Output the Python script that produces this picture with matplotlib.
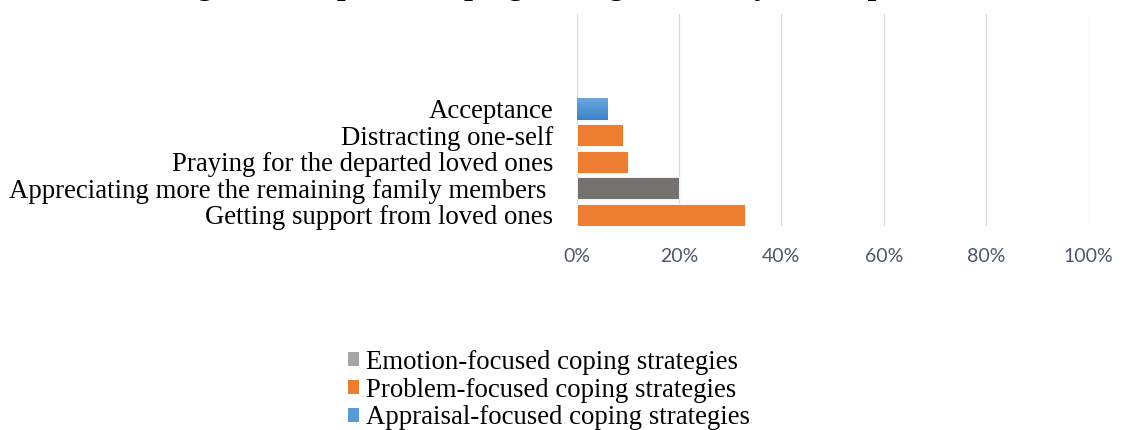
import matplotlib
matplotlib.use("Agg")
import matplotlib.pyplot as plt
import numpy as np
from matplotlib.patches import Patch
from matplotlib.colors import LinearSegmentedColormap

# ---- data ----
categories = [
    "Getting support from loved ones",
    "Appreciating more the remaining family members ",
    "Praying for the departed loved ones",
    "Distracting one-self",
    "Acceptance",
]
values = [33, 20, 10, 9, 6]
groups = ["Problem", "Emotion", "Problem", "Problem", "Appraisal"]
xticks = [0, 20, 40, 60, 80, 100]
xtick_labels = ["0%", "20%", "40%", "60%", "80%", "100%"]
legend_labels = [
    "Emotion-focused coping strategies",
    "Problem-focused coping strategies",
    "Appraisal-focused coping strategies",
]
title_text = "Figure 3: Reported coping strategies used by the respondents"

# ---- styles ----
bar_colors = {"Problem": "#ED7D31", "Emotion": "#767171", "Appraisal": "#4A92D2"}
legend_colors = ["#A5A5A5", "#ED7D31", "#5B9BD5"]
serif = "Liberation Serif"

W, H = 1121, 430
fig = plt.figure(figsize=(W / 100, H / 100), dpi=100)
ax = fig.add_axes([576.5 / W, 1 - 226 / H, (1088.5 - 576.5) / W, (226 - 14) / H])

ypos = np.arange(len(categories))
bars = ax.barh(ypos, values, height=0.83,
               color=[bar_colors[g] for g in groups],
               edgecolor="#FFFFFF", linewidth=0.6, zorder=3)

# gradient for appraisal bar
cmap = LinearSegmentedColormap.from_list("bl", ["#3A84C6", "#6AA6DE"])
for b, g in zip(bars, groups):
    if g == "Appraisal":
        x0, y0 = b.get_x(), b.get_y()
        w, h = b.get_width(), b.get_height()
        grad = np.linspace(0, 1, 64).reshape(-1, 1)
        im = ax.imshow(grad, extent=[x0, x0 + w, y0, y0 + h], origin="lower",
                       cmap=cmap, aspect="auto", zorder=3.5)
        im.set_clip_path(b)

ax.set_xlim(0, 100)
ax.set_ylim(-0.43, 7.57)
ax.set_xticks(xticks)
ax.set_xticklabels(xtick_labels, family="Lato", fontsize=14, color="#4B586B")
ax.set_yticks(ypos)
ax.set_yticklabels(categories, family=serif, fontsize=19.3, color="#000000")
ax.tick_params(axis="both", length=0)
ax.tick_params(axis="x", pad=16)
ax.tick_params(axis="y", pad=17)
ax.grid(axis="x", color="#D9DCE3", linewidth=1.0, zorder=0)
for s in ax.spines.values():
    s.set_visible(False)
ax.set_facecolor("none")

handles = [Patch(facecolor=c, edgecolor="none") for c in legend_colors]
fig.legend(handles, legend_labels, loc="upper left",
           bbox_to_anchor=(348 / W, 1 - 350 / H),
           frameon=False, prop={"family": serif, "size": 19.3},
           handlelength=0.42, handleheight=0.42, handletextpad=0.25,
           labelspacing=0.1, borderpad=0, borderaxespad=0)

fig.text(169 / W, 1 + 6 / H, title_text, family=serif, fontweight="bold",
         fontsize=22.7, ha="left", va="baseline")

fig.savefig("out.png", dpi=100)
